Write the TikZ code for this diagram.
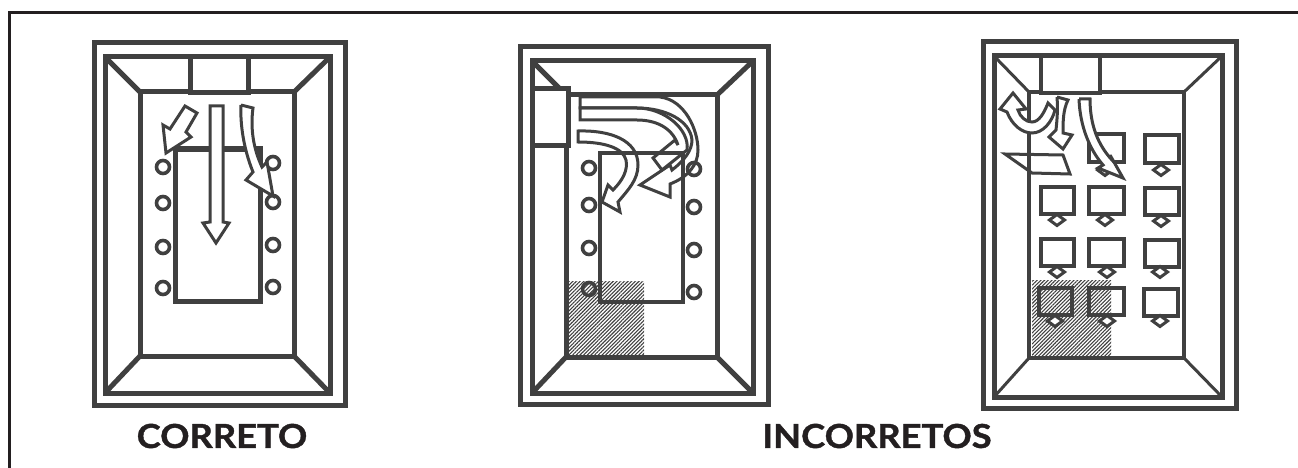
\documentclass[tikz,border=0pt]{standalone}
\usepackage{fontspec}
\setmainfont[FakeStretch=1.1, BoldFeatures={FakeBold=1.2}]{Lato}
\usepackage{xcolor}
\definecolor{ink}{HTML}{404040}
\definecolor{caption}{HTML}{231F20}
\usetikzlibrary{patterns.meta}
\tikzset{
  wall/.style={draw=ink, line width=#1, line join=miter},
  wall/.default=5pt,
  flow/.style={draw=ink, line width=3pt, line join=miter},
  flowfill/.style={flow, fill=white},
  hatched/.style={pattern={Lines[angle=45, distance=2.6pt, line width=1.1pt]}, pattern color=ink},
  seat/.style={draw=ink, line width=3.6pt},
  screen/.style={draw=ink, line width=3.8pt},
  spot/.style={draw=ink, line width=3pt, fill=white},
  label/.style={font=\bfseries\fontsize{33}{36}\selectfont, text=caption}
}
\begin{document}
\begin{tikzpicture}[x=1pt, y=-1pt]
  \useasboundingbox (0,0) rectangle (1298,468);
  \draw[draw=caption, line width=3pt] (9,468) -- (9,13) -- (1298,13);

  \draw[wall] (94,43) rectangle (345,405);
  \draw[wall] (105,57) rectangle (330,393);
  \draw[wall] (140,92) rectangle (294,356);
  \draw[wall] (105,57) -- (140,92) (330,57) -- (294,92) (105,393) -- (140,356) (330,393) -- (294,356);
  \draw[wall, fill=white] (190,57) rectangle (248,93);
  \draw[wall] (175,301) -- (175,149) -- (260,149) -- (260,301) -- cycle;
  \foreach \y in {167,203,247,288} \draw[seat] (163,\y) circle (6.5);
  \foreach \y in {163,202,245,287} \draw[seat] (273,\y) circle (6.5);
  \draw[flowfill] (185,106) -- (197,113) -- (186,132) -- (191,137) -- (166,153) -- (163,125) -- (170,129) -- cycle;
  \draw[flowfill] (210,106) -- (223,106) -- (223,222) -- (229,223) -- (216,243) -- (203,223) -- (210,222) -- cycle;
  \draw[flowfill] (241,105) -- (253,108) .. controls (250,130) and (254,150) .. (262,167) -- (267,162) -- (273,196) -- (246,180) -- (253,172) .. controls (244,150) and (240,125) .. (241,105);

  \fill[hatched] (568,281) rectangle (644,355);
  \draw[wall] (520,47) rectangle (768,404);
  \draw[wall] (532,61) rectangle (753,393);
  \draw[wall] (566,95) rectangle (717,357);
  \draw[wall] (532,61) -- (566,95) (753,61) -- (717,95) (532,393) -- (566,357) (753,393) -- (717,357);
  \draw[wall, fill=white] (532,89) rectangle (568,146);
  \draw[wall=4pt] (600,302) -- (600,153) -- (683,153) -- (683,302) -- cycle;
  \foreach \y in {168,205,248,289} \draw[seat] (589,\y) circle (6.5);
  \foreach \y in {169,207,250,292} \draw[seat] (694,\y) circle (6.5);
  \draw[flow] (580,97) -- (660,97) .. controls (685,100) and (698,130) .. (698,150) .. controls (698,165) and (688,177) .. (670,184) -- (670,197) -- (640,185) -- (670,165) -- (672,170) .. controls (685,160) and (692,150) .. (692,140) .. controls (690,120) and (665,108) .. (637,108) -- (580,108) -- cycle;
  \draw[flow] (580,120) -- (637,120) .. controls (655,120) and (672,127) .. (678,145) -- (675,140) -- (653,158) -- (662,170) -- (687,150) .. controls (690,130) and (665,108) .. (637,108) -- (580,108) -- cycle;
  \draw[flow] (578,131) .. controls (610,130) and (638,140) .. (638,165) .. controls (638,180) and (628,190) .. (618,202) -- (620,212) -- (602,202) -- (608,185) -- (613,190) .. controls (623,180) and (628,170) .. (626,160) .. controls (623,148) and (605,142) .. (578,142) -- cycle;

  \fill[hatched] (1032,280) rectangle (1111,357);
  \draw[wall] (983,42) rectangle (1236,408);
  \draw[wall] (994,56) rectangle (1222,397);
  \draw[wall=3.6pt] (1029,92) rectangle (1184,358);
  \draw[wall=3pt] (994,56) -- (1029,92) (1222,56) -- (1184,92) (994,397) -- (1029,358) (1222,397) -- (1184,358);
  \draw[wall=3.6pt, fill=white] (1041,56) rectangle (1100,93);
  \foreach \xa/\xb/\ya/\yb in {1089/1124/134/162, 1145/1179/135/163, 1041/1074/187/214, 1089/1124/187/214, 1145/1179/188/215, 1041/1074/239/266, 1089/1124/239/266, 1145/1179/240/267, 1039/1072/288/315, 1089/1124/288/315, 1144/1178/289/316}
    \draw[screen] (\xa,\ya) rectangle (\xb,\yb);
  \foreach \xc/\yc in {1105/170, 1161/170, 1057/220, 1105/220, 1161/221, 1057/272, 1107/272, 1160/272, 1055/321, 1107/321, 1160/321}
    \draw[spot] (\xc-7.5,\yc) -- (\xc,\yc-5.5) -- (\xc+7.5,\yc) -- (\xc,\yc+5.5) -- cycle;
  \draw[flow] (1005,154) -- (1063,155) -- (1070,174) -- (1032,173) -- cycle;
  \draw[flowfill] (1013,93) -- (1000,109) -- (1007,112) .. controls (1012,125) and (1022,133) .. (1032,133) .. controls (1043,133) and (1052,122) .. (1055,110) -- (1048,103) .. controls (1044,113) and (1039,122) .. (1032,122) .. controls (1026,122) and (1020,117) .. (1018,110) -- (1026,109) -- cycle;
  \draw[flowfill] (1057,97) -- (1068,100) .. controls (1063,110) and (1063,122) .. (1063,133) -- (1072,135) -- (1063,149) -- (1049,137) -- (1056,130) .. controls (1057,120) and (1058,110) .. (1057,97);
  \draw[flowfill] (1079,99) -- (1090,99) .. controls (1090,125) and (1098,145) .. (1112,160) -- (1110,155) -- (1123,178) -- (1098,168) -- (1103,165) .. controls (1090,150) and (1080,127) .. (1079,99);

  \node[label] (correto) at (222,436) {CORRETO};
  \node[label] (incorretos) at (877,436) {INCORRETOS};
\end{tikzpicture}
\end{document}
